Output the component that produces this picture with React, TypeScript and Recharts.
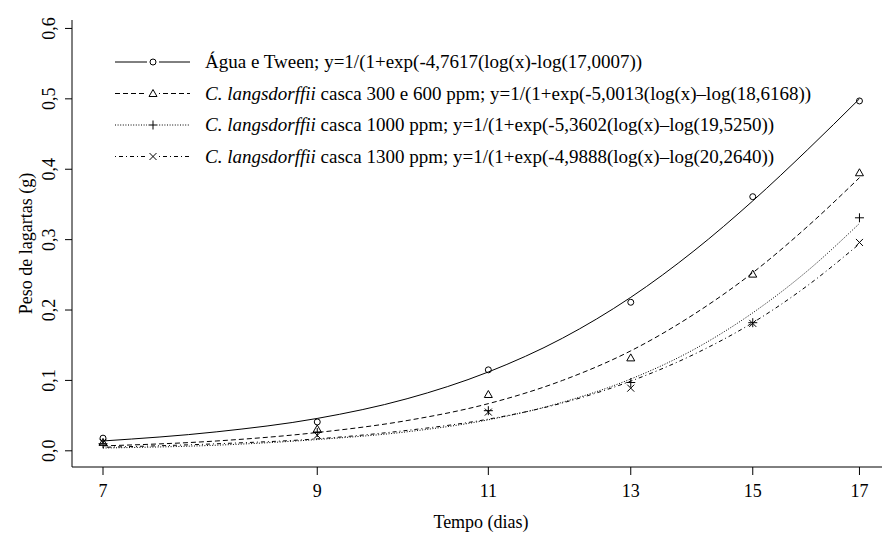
import React from 'react';
import { ComposedChart, Line, XAxis, YAxis, Legend } from 'recharts';

const FONT = '"Liberation Serif", "Times New Roman", serif';

// days on the log-scaled x axis
const days = [7, 8, 9, 10, 11, 12, 13, 14, 15, 16, 17];
const obsDays = [7, 9, 11, 13, 15, 17];
const xTicks = [7, 9, 11, 13, 15, 17];
const yTicks = [0, 0.1, 0.2, 0.3, 0.4, 0.5, 0.6];

// observed means (markers)
const aguaObs = [0.018, 0.041, 0.115, 0.211, 0.361, 0.497];
const casca300Obs = [0.012, 0.031, 0.08, 0.132, 0.251, 0.395];
const casca1000Obs = [0.01, 0.026, 0.057, 0.097, 0.182, 0.331];
const casca1300Obs = [0.012, 0.022, 0.055, 0.089, 0.181, 0.296];

// fitted curves at every day
const aguaFit = [0.014, 0.027, 0.046, 0.074, 0.112, 0.16, 0.218, 0.284, 0.355, 0.428, 0.5];
const casca300Fit = [0.007, 0.014, 0.026, 0.043, 0.067, 0.1, 0.142, 0.194, 0.253, 0.319, 0.388];
const casca1000Fit = [0.004, 0.008, 0.016, 0.027, 0.044, 0.069, 0.102, 0.144, 0.196, 0.256, 0.323];
const casca1300Fit = [0.005, 0.01, 0.017, 0.029, 0.045, 0.068, 0.099, 0.137, 0.182, 0.235, 0.294];

const series = [
  { key: 'agua', obs: aguaObs, fit: aguaFit, dash: undefined, marker: 'circle',
    italic: '', text: 'Água e Tween; y=1/(1+exp(-4,7617(log(x)-log(17,0007))' },
  { key: 'c300', obs: casca300Obs, fit: casca300Fit, dash: '5 3', marker: 'triangle',
    italic: 'C. langsdorffii', text: ' casca 300 e 600 ppm; y=1/(1+exp(-5,0013(log(x)–log(18,6168))' },
  { key: 'c1000', obs: casca1000Obs, fit: casca1000Fit, dash: '1 1.6', marker: 'plus',
    italic: 'C. langsdorffii', text: ' casca 1000 ppm; y=1/(1+exp(-5,3602(log(x)–log(19,5250))' },
  { key: 'c1300', obs: casca1300Obs, fit: casca1300Fit, dash: '1 3 4 3', marker: 'cross',
    italic: 'C. langsdorffii', text: ' casca 1300 ppm; y=1/(1+exp(-4,9888(log(x)–log(20,2640))' },
];

const tableData = days.map((day, i) => {
  const row: Record<string, number | null> = { day };
  const j = obsDays.indexOf(day);
  series.forEach((s) => {
    row[s.key + 'Fit'] = s.fit[i];
    row[s.key + 'Obs'] = j >= 0 ? s.obs[j] : null;
  });
  return row;
});

function Marker({ kind, cx, cy }: { kind: string; cx: number; cy: number }) {
  const st = { fill: 'none', stroke: '#000', strokeWidth: 1 };
  if (kind === 'circle') return <circle cx={cx} cy={cy} r={3} {...st} />;
  if (kind === 'triangle')
    return <path d={`M${cx},${cy - 4} L${cx + 4},${cy + 3} L${cx - 4},${cy + 3} Z`} {...st} />;
  if (kind === 'plus')
    return <path d={`M${cx - 4.5},${cy} H${cx + 4.5} M${cx},${cy - 4.5} V${cy + 4.5}`} {...st} />;
  return <path d={`M${cx - 3.5},${cy - 3.5} L${cx + 3.5},${cy + 3.5} M${cx - 3.5},${cy + 3.5} L${cx + 3.5},${cy - 3.5}`} {...st} />;
}

const YTick = (props: any) => {
  const { x, y, payload } = props;
  const label = payload.value.toFixed(1).replace('.', ',');
  return (
    <text x={x} y={y} transform={`rotate(-90 ${x} ${y})`} textAnchor="middle"
      fontSize={18} fontFamily={FONT} fill="#000">{label}</text>
  );
};

const LegendBox = () => (
  <svg width={900} height={200} style={{ display: 'block' }}>
    {series.map((s, i) => {
      const cy = 62 + i * 31.5;
      return (
        <g key={s.key}>
          <line x1={115} x2={190} y1={cy} y2={cy} stroke="#000" strokeWidth={1} strokeDasharray={s.dash} />
          <rect x={147} y={cy - 5} width={12} height={10} fill="#fff" />
          <Marker kind={s.marker} cx={153} cy={cy} />
          <text x={205} y={cy + 6} fontSize={19} fontFamily={FONT} fill="#000">
            {s.italic && <tspan fontStyle="italic">{s.italic}</tspan>}
            <tspan>{s.text}</tspan>
          </text>
        </g>
      );
    })}
  </svg>
);

export default function App() {
  return (
    <div style={{ position: 'absolute', left: 0, top: 0, width: 882, height: 540, overflow: 'hidden', background: '#fff' }}>
      <ComposedChart width={900} height={540} data={tableData} margin={{ top: 20, right: 10, bottom: 0, left: 0 }}>
        <XAxis dataKey="day" type="number" scale="log" domain={[6.75, 17.62]} ticks={xTicks}
          height={73} tickSize={8} tickMargin={9} axisLine={{ stroke: '#000' }} tickLine={{ stroke: '#000' }}
          tick={{ fontSize: 18, fill: '#000', fontFamily: FONT }}
          label={{
            content: (p: any) => {
              const vb = p.viewBox;
              return (
                <text x={vb.x + vb.width / 2} y={vb.y + vb.height - 12} textAnchor="middle"
                  fontSize={18} fontFamily={FONT} fill="#000">Tempo (dias)</text>
              );
            },
          }} />
        <XAxis xAxisId="top" orientation="top" dataKey="day" type="number" scale="log" domain={[6.75, 17.62]}
          height={0} tick={false} tickLine={false} axisLine={{ stroke: '#000' }} />
        <YAxis type="number" domain={[-0.023, 0.612]} ticks={yTicks} width={72} tickSize={7} tickMargin={10}
          axisLine={{ stroke: '#000' }} tickLine={{ stroke: '#000' }} tick={<YTick />}
          label={{
            content: (p: any) => {
              const vb = p.viewBox;
              const x = 32;
              const y = vb.y + vb.height / 2;
              return (
                <text x={x} y={y} transform={`rotate(-90 ${x} ${y})`} textAnchor="middle"
                  fontSize={18} fontFamily={FONT} fill="#000">Peso de lagartas (g)</text>
              );
            },
          }} />
        <Legend layout="vertical" align="center" verticalAlign="middle" content={<LegendBox />}
          wrapperStyle={{ left: 0, top: 0, width: 900, height: 200 }} />
        {series.map((s) => (
          <Line key={s.key + 'Fit'} type="monotone" dataKey={s.key + 'Fit'} stroke="#000" strokeWidth={1}
            strokeDasharray={s.dash} dot={false} activeDot={false} isAnimationActive={false} />
        ))}
        {series.map((s) => (
          <Line key={s.key + 'Obs'} dataKey={s.key + 'Obs'} stroke="none" activeDot={false}
            isAnimationActive={false}
            dot={(p: any) =>
              p.value == null || p.cx == null ? <g key={p.index} /> : (
                <g key={p.index}><Marker kind={s.marker} cx={p.cx} cy={p.cy} /></g>
              )} />
        ))}
      </ComposedChart>
    </div>
  );
}
